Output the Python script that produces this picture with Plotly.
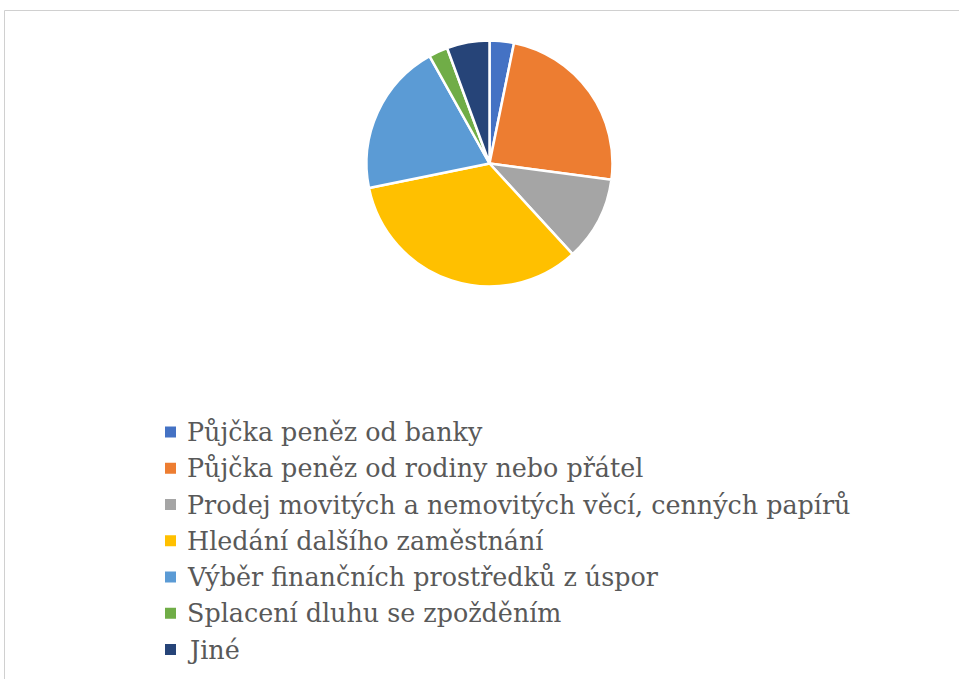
import plotly.graph_objects as go

labels = [
    "Půjčka peněz od banky",
    "Půjčka peněz od rodiny nebo přátel",
    "Prodej movitých a nemovitých věcí, cenných papírů",
    "Hledání dalšího zaměstnání",
    "Výběr finančních prostředků z úspor",
    "Splacení dluhu se zpožděním",
    "Jiné",
]
values = [3.2, 23.9, 11.1, 33.6, 20.1, 2.5, 5.6]
colors = ["#4472C4", "#ED7D31", "#A5A5A5", "#FFC000", "#5B9BD5", "#70AD47", "#264478"]

W, H = 959, 679
cx, cy, r = 489.5, 163.5, 123.0

fig = go.Figure(
    go.Pie(
        labels=labels,
        values=values,
        sort=False,
        direction="clockwise",
        rotation=0,
        textinfo="none",
        hoverinfo="label+percent",
        showlegend=False,
        marker=dict(colors=colors, line=dict(color="white", width=2.5)),
        domain=dict(
            x=[(cx - r) / W, (cx + r) / W],
            y=[1 - (cy + r) / H, 1 - (cy - r) / H],
        ),
    )
)

# Legend block drawn as a column of colour keys with serif labels
key_x, key_size = 170.5, 11.0
text_x = 184.5
row0, row_step = 432.0, 36.25
legend_font = dict(family="DejaVu Serif", size=25.4, color="#595959")

shapes = [
    dict(
        type="rect",
        xref="paper",
        yref="paper",
        x0=4.5 / W,
        x1=1.05,
        y0=-0.05,
        y1=1 - 10.5 / H,
        line=dict(color="#d0d0d0", width=1),
        fillcolor="rgba(0,0,0,0)",
    )
]
annotations = []
for i, (lab, col) in enumerate(zip(labels, colors)):
    yc = row0 + i * row_step
    shapes.append(
        dict(
            type="rect",
            xref="paper",
            yref="paper",
            x0=(key_x - key_size / 2) / W,
            x1=(key_x + key_size / 2) / W,
            y0=1 - (yc + key_size / 2) / H,
            y1=1 - (yc - key_size / 2) / H,
            line=dict(width=0),
            fillcolor=col,
        )
    )
    annotations.append(
        dict(
            text=lab,
            xref="paper",
            yref="paper",
            x=text_x / W,
            y=1 - yc / H,
            xanchor="left",
            yanchor="middle",
            showarrow=False,
            font=legend_font,
        )
    )

fig.update_layout(
    width=W,
    height=H,
    margin=dict(l=0, r=0, t=0, b=0, autoexpand=False),
    paper_bgcolor="white",
    plot_bgcolor="white",
    shapes=shapes,
    annotations=annotations,
)

fig.write_html("out.html")
